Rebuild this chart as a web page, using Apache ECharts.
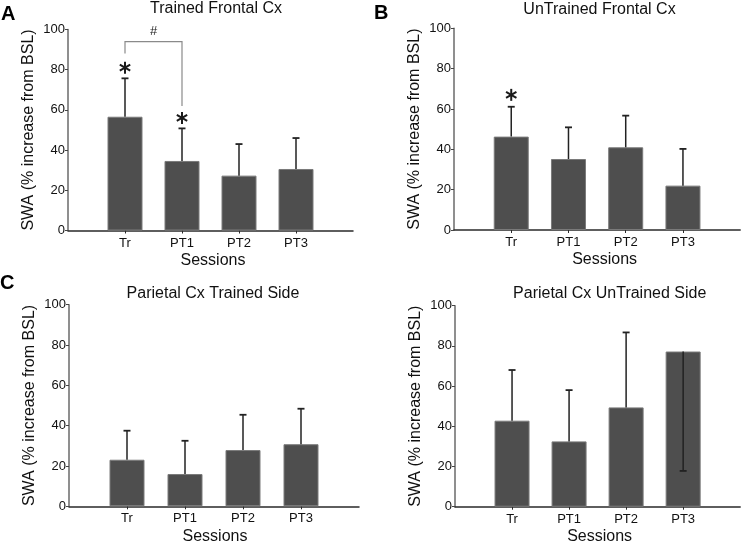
<!DOCTYPE html>
<html>
<head>
<meta charset="utf-8">
<script src="https://cdn.jsdelivr.net/npm/echarts@6/dist/echarts.min.js"></script>
<style>html,body{margin:0;padding:0;background:#fff;}#c{width:745px;height:548px;}</style>
</head>
<body>
<div id="c"></div>
<script>
// ---- data ----
const categories = ['Tr', 'PT1', 'PT2', 'PT3'];
const axisSlots = ['', 'Tr', 'PT1', 'PT2', 'PT3', ' '];
const yTicks = [0, 20, 40, 60, 80, 100];
const panelTitles = ['Trained Frontal Cx', 'UnTrained Frontal Cx', 'Parietal Cx Trained Side', 'Parietal Cx UnTrained Side'];
const panelLetters = ['A', 'B', 'C', ''];
const yName = 'SWA (% increase from BSL)';
const xName = 'Sessions';

const trainedFrontal = [56.6, 34.6, 27.3, 30.6];
const trainedFrontalErr = [75.7, 50.8, 43.0, 46.0];
const untrainedFrontal = [46.3, 35.2, 41.0, 22.0];
const untrainedFrontalErr = [61.1, 50.9, 56.7, 40.2];
const parietalTrained = [23.1, 16.0, 27.9, 30.8];
const parietalTrainedErr = [37.5, 32.5, 45.4, 48.4];
const parietalUntrained = [42.8, 32.5, 49.4, 77.2];
const parietalUntrainedErr = [68.0, 58.0, 86.7, 17.8];

// significance marks
const starsA = [['Tr', 81], ['PT1', 56]];
const starsB = [['Tr', 67]];
const bracketA = { from: 'Tr', to: 'PT1', fromEnd: 88, toEnd: 62, top: 94, label: '#', labelY: 99 };

// ---- layout ----
const grids = [
  { left: 68, right: 392, top: 29.5, bottom: 317.5 },
  { left: 454, right: 1, top: 28.3, bottom: 318 },
  { left: 69, right: 386, top: 304.7, bottom: 41.7 },
  { left: 455, right: 0.5, top: 305.7, bottom: 41.3 }
];
const xNamePad = [5, 15, 2, 4];
const FONT = '"Liberation Sans", Arial, Helvetica, sans-serif';

const means = [trainedFrontal, untrainedFrontal, parietalTrained, parietalUntrained];
const errs = [trainedFrontalErr, untrainedFrontalErr, parietalTrainedErr, parietalUntrainedErr];
const stars = [starsA, starsB, [], []];

const xAxes = grids.map((g, i) => ({
  type: 'category', gridIndex: i, data: axisSlots, boundaryGap: false,
  axisLine: { lineStyle: { color: '#2a2a2a', width: 1.5 } },
  axisTick: { show: true, length: 3, interval: (idx) => idx > 0 && idx < axisSlots.length - 1, lineStyle: { color: '#2a2a2a' } },
  axisLabel: { color: '#111', fontSize: 13, fontFamily: FONT, margin: 6, interval: 0 },
  name: xName, nameLocation: 'middle', nameGap: 22,
  nameTextStyle: { fontSize: 16, color: '#111', fontFamily: FONT, padding: [0, 0, 0, xNamePad[i]] },
  splitLine: { show: false }
}));
const yAxes = grids.map((g, i) => ({
  type: 'value', gridIndex: i, min: yTicks[0], max: yTicks[yTicks.length - 1], interval: yTicks[1] - yTicks[0],
  axisLine: { show: true, lineStyle: { color: '#6a6a6a', width: 1.5 } },
  axisTick: { show: true, length: 3, lineStyle: { color: '#444' } },
  axisLabel: { color: '#111', fontSize: 13, fontFamily: FONT, margin: 3 },
  splitLine: { show: false },
  name: yName, nameLocation: 'middle', nameGap: 31, nameRotate: 90,
  nameTextStyle: { fontSize: 16, color: '#111', fontFamily: FONT, padding: [0, 0, 0, 0] }
}));

const series = [];
means.forEach((m, i) => {
  series.push({
    type: 'bar', xAxisIndex: i, yAxisIndex: i, barWidth: 35, silent: true,
    data: m.map((v, k) => [categories[k], v]),
    itemStyle: { color: '#4e4e4e', borderColor: '#7a7a7a', borderWidth: 1 }
  });
  series.push({
    type: 'custom', xAxisIndex: i, yAxisIndex: i, silent: true, z: 5,
    encode: { x: 0, y: [1, 2] },
    data: m.map((v, k) => [categories[k], v, errs[i][k]]),
    renderItem: function (params, api) {
      const x = api.value(0);
      const p0 = api.coord([x, api.value(1)]);
      const p1 = api.coord([x, api.value(2)]);
      const cap = 3.5;
      return {
        type: 'group', children: [
          { type: 'line', shape: { x1: p0[0], y1: p0[1], x2: p1[0], y2: p1[1] }, style: { stroke: '#222', lineWidth: 1.5 } },
          { type: 'line', shape: { x1: p1[0] - cap, y1: p1[1], x2: p1[0] + cap, y2: p1[1] }, style: { stroke: '#222', lineWidth: 1.8 } }
        ]
      };
    }
  });
  if (stars[i].length) {
    series.push({
      type: 'custom', xAxisIndex: i, yAxisIndex: i, silent: true, z: 6,
      data: stars[i],
      renderItem: function (params, api) {
        const c = api.coord([api.value(0), api.value(1)]);
        const r = 6;
        const dx = r * Math.cos(Math.PI / 6), dy = r * Math.sin(Math.PI / 6);
        const st = { stroke: '#1a1a1a', lineWidth: 2 };
        return {
          type: 'group', children: [
            { type: 'line', shape: { x1: c[0], y1: c[1] - r, x2: c[0], y2: c[1] + r }, style: st },
            { type: 'line', shape: { x1: c[0] - dx, y1: c[1] - dy, x2: c[0] + dx, y2: c[1] + dy }, style: st },
            { type: 'line', shape: { x1: c[0] - dx, y1: c[1] + dy, x2: c[0] + dx, y2: c[1] - dy }, style: st }
          ]
        };
      }
    });
  }
});
// bracket in panel A
series.push({
  type: 'custom', xAxisIndex: 0, yAxisIndex: 0, silent: true, z: 6,
  data: [[bracketA.from, bracketA.to, bracketA.fromEnd, bracketA.toEnd, bracketA.top, bracketA.labelY]],
  dimensions: [{ name: 'from', type: 'ordinal' }, { name: 'to', type: 'ordinal' }, 'fe', 'te', 'top', 'ly'],
  renderItem: function (params, api) {
    const a = api.coord([bracketA.from, bracketA.fromEnd]);
    const at = api.coord([bracketA.from, bracketA.top]);
    const b = api.coord([bracketA.to, bracketA.toEnd]);
    const bt = api.coord([bracketA.to, bracketA.top]);
    const l = api.coord([bracketA.from, bracketA.labelY]);
    return {
      type: 'group', children: [
        { type: 'polyline', shape: { points: [a, at, bt, b] }, style: { stroke: '#8a8a8a', lineWidth: 1.2, fill: null } },
        { type: 'text', x: (at[0] + bt[0]) / 2, y: l[1], style: { text: bracketA.label, fill: '#222', font: '13px ' + FONT, align: 'center', verticalAlign: 'middle' } }
      ]
    };
  }
});

const titleCenters = [[216, 0.5], [599.5, 2], [213, 286], [609.7, 286]];
const letterPos = [[1, 4], [374, 3], [0, 273.5], [0, 0]];
const graphics = [];
panelTitles.forEach((t, i) => {
  graphics.push({ type: 'text', x: titleCenters[i][0], y: titleCenters[i][1], style: { text: t, font: '16px ' + FONT, fill: '#111', align: 'center', verticalAlign: 'top' } });
  if (panelLetters[i]) graphics.push({ type: 'text', x: letterPos[i][0], y: letterPos[i][1], style: { text: panelLetters[i], font: 'bold 20px ' + FONT, fill: '#000', align: 'left', verticalAlign: 'top' } });
});

const chart = echarts.init(document.getElementById('c'), null, { renderer: 'canvas' });
chart.setOption({
  animation: false,
  backgroundColor: '#fff',
  grid: grids,
  xAxis: xAxes,
  yAxis: yAxes,
  series: series,
  graphic: graphics
});
</script>
</body>
</html>
